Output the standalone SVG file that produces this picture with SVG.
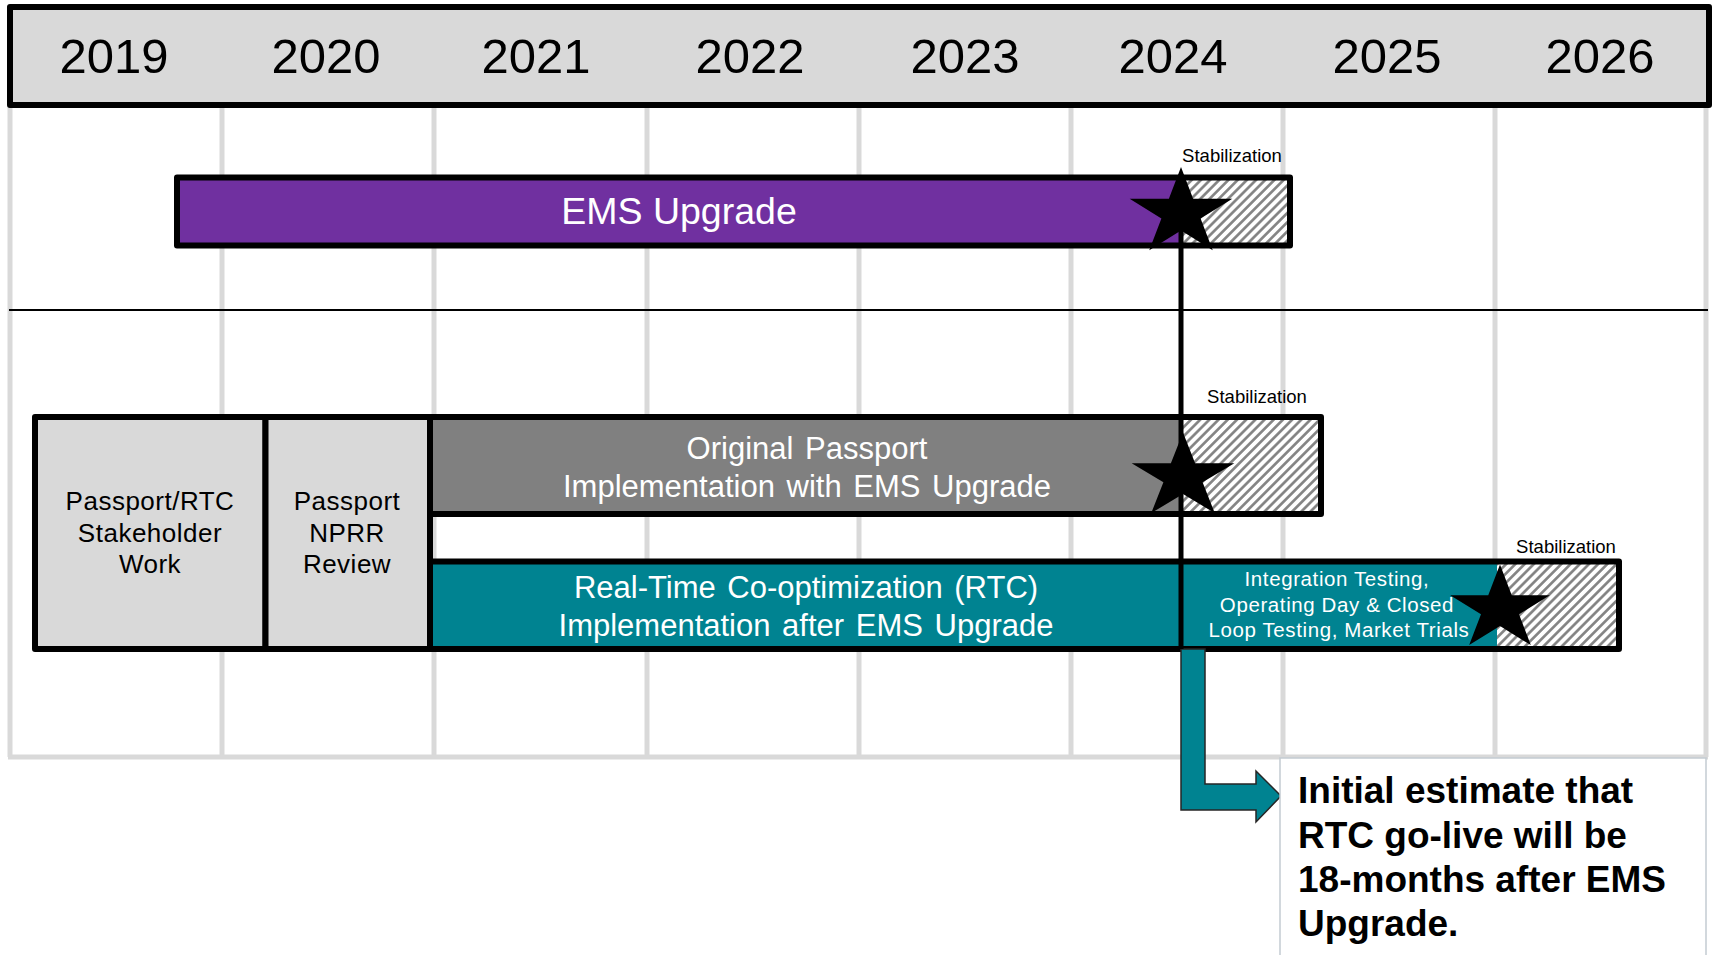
<svg xmlns="http://www.w3.org/2000/svg" xmlns:xlink="http://www.w3.org/1999/xlink" width="1715" height="955" viewBox="0 0 1715 955">
<style>
  text { font-family: "Liberation Sans", Arial, sans-serif; }
  .grid { stroke: #d9d9d9; stroke-width: 5; fill: none; }
  .bar { stroke: #000; stroke-width: 6; stroke-linejoin: round; }
  .year { font-size: 49px; fill: #000; text-anchor: middle; }
  .barlbl { font-size: 31px; fill: #fff; text-anchor: middle; word-spacing: 3px; }
  .stab { font-size: 18.5px; fill: #000; text-anchor: middle; }
  .boxlbl { font-size: 26px; fill: #000; text-anchor: middle; letter-spacing: 0.5px; }
  .small { font-size: 20.5px; fill: #fff; text-anchor: middle; letter-spacing: 0.6px; }
  .note { font-size: 37px; font-weight: bold; fill: #000; }
</style>
<defs>
  <pattern id="hatch" patternUnits="userSpaceOnUse" width="6.5" height="6.5" patternTransform="rotate(45)">
    <rect width="6.5" height="6.5" fill="#fff"/>
    <line x1="1.4" y1="0" x2="1.4" y2="6.5" stroke="#808080" stroke-width="2.6"/>
  </pattern>
  <polygon id="star" fill="#000" points="0,-46 12.12,-14.21 51.35,-14.21 19.6,5.43 31.75,37.21 0,17.57 -31.75,37.21 -19.6,5.43 -51.35,-14.21 -12.12,-14.21"/>
</defs>
<rect width="1715" height="955" fill="#fff"/>

<g id="grid">
  <line class="grid" x1="10" y1="105" x2="10" y2="757"/>
  <line class="grid" x1="222" y1="105" x2="222" y2="757"/>
  <line class="grid" x1="434" y1="105" x2="434" y2="757"/>
  <line class="grid" x1="647" y1="105" x2="647" y2="757"/>
  <line class="grid" x1="859" y1="105" x2="859" y2="757"/>
  <line class="grid" x1="1071" y1="105" x2="1071" y2="757"/>
  <line class="grid" x1="1283" y1="105" x2="1283" y2="757"/>
  <line class="grid" x1="1495" y1="105" x2="1495" y2="757"/>
  <line class="grid" x1="1706" y1="105" x2="1706" y2="757"/>
  <line class="grid" x1="8" y1="757" x2="1708" y2="757"/>
  <line x1="9" y1="310" x2="1708" y2="310" stroke="#000" stroke-width="2"/>
</g>

<g id="header">
  <rect x="10" y="7" width="1699" height="98" fill="#d9d9d9" stroke="#000" stroke-width="6" stroke-linejoin="round"/>
  <text class="year" x="114" y="73">2019</text>
  <text class="year" x="326" y="73">2020</text>
  <text class="year" x="536" y="73">2021</text>
  <text class="year" x="750" y="73">2022</text>
  <text class="year" x="965" y="73">2023</text>
  <text class="year" x="1173" y="73">2024</text>
  <text class="year" x="1387" y="73">2025</text>
  <text class="year" x="1600" y="73">2026</text>
</g>

<g id="ems-upgrade">
  <rect x="177" y="177.5" width="1004" height="68" fill="#7030a0"/>
  <rect x="1181" y="177.5" width="109" height="68" fill="url(#hatch)"/>
  <rect class="bar" x="177" y="177.5" width="1113" height="68" fill="none"/>
  <text class="barlbl" x="679" y="224" style="font-size:37.5px;word-spacing:0">EMS Upgrade</text>
  <text class="stab" x="1232" y="162">Stabilization</text>
</g>

<g id="stakeholder-work">
  <rect class="bar" x="35" y="417" width="230.5" height="232" fill="#d9d9d9"/>
  <text class="boxlbl" x="150" y="510">Passport/RTC</text>
  <text class="boxlbl" x="150" y="542">Stakeholder</text>
  <text class="boxlbl" x="150" y="573">Work</text>
</g>

<g id="nprr-review">
  <rect class="bar" x="265.5" y="417" width="164.5" height="232" fill="#d9d9d9"/>
  <text class="boxlbl" x="347" y="510">Passport</text>
  <text class="boxlbl" x="347" y="542">NPRR</text>
  <text class="boxlbl" x="347" y="573">Review</text>
</g>

<g id="original-passport">
  <rect x="430" y="417" width="751" height="97" fill="#808080"/>
  <rect x="1181" y="417" width="140" height="97" fill="url(#hatch)"/>
  <rect class="bar" x="430" y="417" width="891" height="97" fill="none"/>
  <text class="barlbl" x="807" y="459">Original Passport</text>
  <text class="barlbl" x="807" y="497">Implementation with EMS Upgrade</text>
  <text class="stab" x="1257" y="403">Stabilization</text>
</g>

<g id="rtc-implementation">
  <rect x="430" y="561.5" width="1067" height="87.5" fill="#008391"/>
  <rect x="1497" y="561.5" width="122" height="87.5" fill="url(#hatch)"/>
  <rect class="bar" x="430" y="561.5" width="1189" height="87.5" fill="none"/>
  <text class="barlbl" x="806" y="598">Real-Time Co-optimization (RTC)</text>
  <text class="barlbl" x="806" y="636">Implementation after EMS Upgrade</text>
  <text class="small" x="1337" y="586">Integration Testing,</text>
  <text class="small" x="1337" y="612">Operating Day &amp; Closed</text>
  <text class="small" x="1339" y="637">Loop Testing, Market Trials</text>
  <text class="stab" x="1566" y="553">Stabilization</text>
</g>

<g id="connectors">
  <path d="M1181,649 L1205,649 L1205,784 L1256,784 L1256,771 L1281,796 L1256,822 L1256,810 L1181,810 Z" fill="#008391" stroke="#262626" stroke-width="1.5" stroke-linejoin="miter"/>
  <line x1="1181" y1="213" x2="1181" y2="649" stroke="#000" stroke-width="5"/>
</g>

<g id="milestones">
  <use xlink:href="#star" href="#star" transform="translate(1181,213)"/>
  <use xlink:href="#star" href="#star" transform="translate(1183,477) scale(1,0.97)"/>
  <use xlink:href="#star" href="#star" transform="translate(1500,609) scale(0.97,0.97)"/>
</g>

<g id="note">
  <rect x="1280" y="758" width="426" height="230" fill="#fff" stroke="#c3cbd2" stroke-width="1.5"/>
  <text class="note" x="1298" y="803">Initial estimate that</text>
  <text class="note" x="1298" y="848">RTC go-live will be</text>
  <text class="note" x="1298" y="892">18-months after EMS</text>
  <text class="note" x="1298" y="936">Upgrade.</text>
</g>
</svg>
